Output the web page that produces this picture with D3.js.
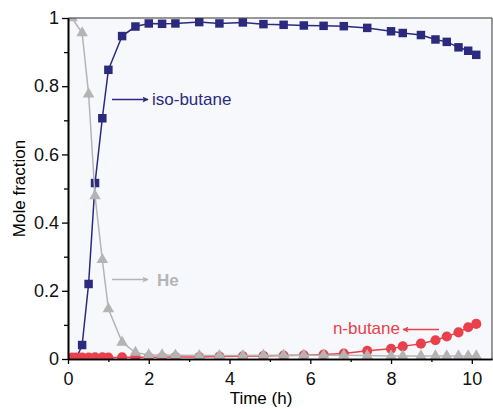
<!DOCTYPE html>
<html>
  <head>
    <meta charset="utf-8">
    <title>Mole fraction vs time</title>
    <script src="https://cdn.jsdelivr.net/npm/d3@7"></script>
    <style>
      body { margin: 0; background: #fff; }
      text { font-family: "Liberation Sans", Arial, sans-serif; }
    </style>
  </head>
  <body>
    <svg id="chart" width="493" height="409"></svg>
    <script>
      // data
      var times = [0.1, 0.2, 0.35, 0.51, 0.67, 0.85, 1.0, 1.34, 1.67, 2.0, 2.33, 2.66, 3.25, 3.75, 4.33,
                   4.84, 5.34, 5.84, 6.33, 6.83, 7.41, 8.0, 8.29, 8.74, 9.1, 9.38, 9.67, 9.91, 10.11];
      var isoButane = [null, 0.0, 0.041, 0.22, 0.516, 0.706, 0.848, 0.947, 0.975, 0.984, 0.983, 0.984, 0.988, 0.984, 0.987,
                       0.982, 0.980, 0.978, 0.977, 0.976, 0.971, 0.961, 0.956, 0.950, 0.937, 0.930, 0.914, 0.904, 0.892];
      var nButane = [0.004, 0.004, 0.004, 0.004, 0.005, 0.005, 0.004, 0.005, 0.005, 0.005, 0.005, 0.006, 0.006, 0.007, 0.008,
                     0.009, 0.010, 0.011, 0.013, 0.016, 0.024, 0.030, 0.037, 0.045, 0.055, 0.066, 0.078, 0.093, 0.103];
      var helium = [1.0, null, 0.956, 0.777, 0.478, 0.291, 0.147, 0.049, 0.019, 0.012, 0.012, 0.011, 0.010, 0.010, 0.010,
                    0.011, 0.011, 0.011, 0.011, 0.011, 0.010, 0.009, 0.009, 0.009, 0.009, 0.009, 0.009, 0.009, 0.009];
      var xTicks = [0, 2, 4, 6, 8, 10];
      var yTicks = [0, 0.2, 0.4, 0.6, 0.8, 1];

      var svg = d3.select("#chart");
      var margin = { top: 18, right: 1, bottom: 50, left: 68 };
      var width = 493 - margin.left - margin.right;
      var height = 409 - margin.top - margin.bottom;

      var x = d3.scaleLinear().domain([0, 10.5]).range([0, width]);
      var y = d3.scaleLinear().domain([0, 1]).range([height, 0]);

      var g = svg.append("g")
        .attr("transform", "translate(" + margin.left + "," + margin.top + ")");

      g.append("rect")
        .attr("width", width)
        .attr("height", height)
        .attr("fill", "#f7f8fb");

      svg.append("defs").append("clipPath")
        .attr("id", "plotClip")
        .append("rect")
          .attr("width", width)
          .attr("height", height);

      var plot = g.append("g").attr("clip-path", "url(#plotClip)");

      function series(values, colour, symbol, size) {
        var pts = times.map(function(t, i) { return [t, values[i]]; })
          .filter(function(d) { return d[1] !== null; });
        var line = d3.line()
          .x(function(d) { return x(d[0]); })
          .y(function(d) { return y(d[1]); });
        plot.append("path")
          .datum(pts)
          .attr("d", line)
          .attr("fill", "none")
          .attr("stroke", colour)
          .attr("stroke-width", 1.5);
        plot.selectAll(null)
          .data(pts)
          .enter()
          .append("path")
            .attr("transform", function(d) { return "translate(" + x(d[0]) + "," + y(d[1]) + ")"; })
            .attr("d", d3.symbol().type(symbol).size(size))
            .attr("fill", colour);
      }

      series(isoButane, "#2b2a7e", d3.symbolSquare, 72);
      series(nButane, "#e8414b", d3.symbolCircle, 80);
      series(helium, "#b4b4b4", d3.symbolTriangle, 58);

      // frame
      g.append("line")
        .attr("x1", 0).attr("x2", width).attr("y1", 0).attr("y2", 0)
        .attr("stroke", "#333").attr("stroke-width", 1);
      g.append("line")
        .attr("x1", width).attr("x2", width).attr("y1", 0).attr("y2", height)
        .attr("stroke", "#333").attr("stroke-width", 1);

      // axes
      var xAxis = d3.axisBottom(x).tickValues(xTicks).tickFormat(d3.format("d")).tickSize(5).tickPadding(8).tickSizeOuter(0);
      var xMinor = d3.axisBottom(x).tickValues([1, 3, 5, 7, 9]).tickFormat("").tickSize(3).tickSizeOuter(0);
      var yAxis = d3.axisLeft(y).tickValues(yTicks).tickFormat(function(d) { return d === 0 || d === 1 ? d : d.toFixed(1); }).tickSize(6).tickPadding(3).tickSizeOuter(0);
      var yMinor = d3.axisLeft(y).tickValues([0.1, 0.3, 0.5, 0.7, 0.9]).tickFormat("").tickSize(4).tickSizeOuter(0);

      [xMinor, xAxis].forEach(function(a) {
        g.append("g").attr("transform", "translate(0," + height + ")").call(a);
      });
      [yMinor, yAxis].forEach(function(a) {
        g.append("g").call(a);
      });
      g.selectAll(".domain").attr("stroke", "#000").attr("stroke-width", 1.6);
      g.selectAll(".tick line").attr("stroke", "#000").attr("stroke-width", 1.3);
      g.selectAll(".tick text").attr("font-size", 18).attr("fill", "#111")
        .attr("font-family", "'Liberation Sans', Arial, sans-serif");

      // axis titles
      svg.append("text")
        .attr("x", 261)
        .attr("y", 404)
        .attr("text-anchor", "middle")
        .attr("font-size", 17)
        .text("Time (h)");
      svg.append("text")
        .attr("transform", "translate(25," + (margin.top + y(0.5)) + ") rotate(-90)")
        .attr("text-anchor", "middle")
        .attr("font-size", 17)
        .text("Mole fraction");

      // annotations
      var defs = svg.select("defs");
      [["navy", "#2b2a7e"], ["grey", "#b4b4b4"], ["red", "#e8414b"]].forEach(function(c) {
        defs.append("marker")
          .attr("id", "arrow-" + c[0])
          .attr("viewBox", "0 0 10 10")
          .attr("refX", 9).attr("refY", 5)
          .attr("markerWidth", 10).attr("markerHeight", 6)
          .attr("markerUnits", "userSpaceOnUse")
          .attr("orient", "auto")
          .append("path")
            .attr("d", "M0,0L10,5L0,10L2,5Z")
            .attr("fill", c[1]);
      });

      function note(x1, x2, yy, colour, name) {
        svg.append("line")
          .attr("x1", x1).attr("x2", x2).attr("y1", yy).attr("y2", yy)
          .attr("stroke", colour).attr("stroke-width", 1.5)
          .attr("marker-end", "url(#arrow-" + name + ")");
      }
      note(112, 148, 99.5, "#2b2a7e", "navy");
      note(112, 148, 279.5, "#b4b4b4", "grey");
      note(439, 403, 329.5, "#e8414b", "red");

      svg.append("text").attr("x", 152).attr("y", 105).attr("font-size", 17)
        .attr("fill", "#2b2a7e").text("iso-butane");
      svg.append("text").attr("x", 157).attr("y", 285.5).attr("font-size", 17)
        .attr("font-weight", "bold").attr("fill", "#b4b4b4").text("He");
      svg.append("text").attr("x", 400).attr("y", 334).attr("font-size", 17)
        .attr("text-anchor", "end").attr("fill", "#e8414b").text("n-butane");
    </script>
  </body>
</html>
